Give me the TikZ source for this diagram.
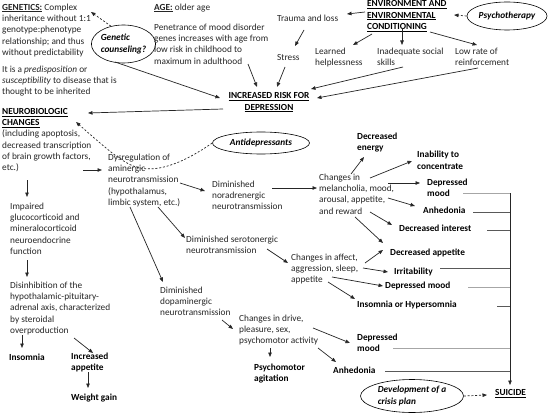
\documentclass[tikz,border=0pt]{standalone}
\usepackage{fontspec}
\setmainfont{Carlito}
\usetikzlibrary{arrows.meta,shapes.geometric}
\begin{document}
\begin{tikzpicture}[x=1pt,y=-1pt,
  txt/.style={font=\fontsize{9.3}{11.3}\selectfont, text=black!85, align=left, inner sep=0pt, anchor=north west},
  bld/.style={txt, font=\fontsize{9.3}{11.3}\selectfont\bfseries, text=black},
  arr/.style={-{Triangle[length=4.5pt,width=3.5pt]}, line width=0.7pt, black!85},
  darr/.style={arr, dash pattern=on 2pt off 1.8pt},
  oval/.style={ellipse, draw, line width=0.6pt, inner sep=0pt, text=black, font=\fontsize{9.3}{11.3}\selectfont\bfseries\itshape, align=left},
  hl/.style={line width=0.7pt, black!65},
  hll/.style={line width=1pt, black!35}]
\fill[white] (0,0) rectangle (553,414);
\useasboundingbox (0,0) rectangle (553,414);

% top row
\node[txt] (gen) at (2,3.5) {\textbf{\underline{GENETICS:}} Complex\\inheritance without 1:1\\genotype:phenotype\\relationship; and thus\\without predictability};
\node[txt] (pred) at (2,65.5) {It is a \textit{predisposition} or\\\textit{susceptibility} to disease that is\\thought to be inherited};
\node[oval, minimum width=53pt, minimum height=38pt] (gc) at (123.5,44) {Genetic\\counseling?};
\node[txt] (age) at (154,3.5) {\textbf{\underline{AGE:}} older age};
\node[txt] (pen) at (154,23.5) {Penetrance of mood disorder\\genes increases with age from\\low risk in childhood to\\maximum in adulthood};
\node[txt] (trauma) at (277,14.5) {Trauma and loss};
\node[bld] (env) at (367,0.5) {\underline{ENVIRONMENT AND}\\\underline{ENVIRONMENTAL}\\\underline{CONDITIONING}};
\node[oval, minimum width=80pt, minimum height=28pt] (psy) at (507,16) {Psychotherapy};
\node[txt] (stress) at (277,54.5) {Stress};
\node[txt] (learned) at (315,47.5) {Learned\\helplessness};
\node[txt] (inad) at (377,47.5) {Inadequate social\\skills};
\node[txt] (low) at (455,47.5) {Low rate of\\reinforcement};
\node[bld, align=center, anchor=north] (risk) at (269,92.5) {\underline{INCREASED RISK FOR}\\\underline{DEPRESSION}};

% neurobiologic column
\node[txt] (neuro) at (2,108) {\textcolor{black}{\textbf{\underline{NEUROBIOLOGIC}}}\\\textcolor{black}{\textbf{\underline{CHANGES}}}\\(including apoptosis,\\decreased transcription\\of brain growth factors,\\etc.)};
\node[txt] (imp) at (10,202.5) {Impaired\\glucocorticoid and\\mineralocorticoid\\neuroendocrine\\function};
\node[txt] (dis) at (10,281.5) {Disinhibition of the\\hypothalamic-pituitary-\\adrenal axis, characterized\\by steroidal\\overproduction};
\node[bld] (insom) at (9,353.5) {Insomnia};
\node[bld] (iapp) at (71,352.5) {Increased\\appetite};
\node[bld] (wg) at (71,394) {Weight gain};

% middle
\node[txt] (dys) at (108,153.5) {Dysregulation of\\aminergic\\neurotransmission\\(hypothalamus,\\limbic system, etc.)};
\node[oval, minimum width=97pt, minimum height=22pt] (anti) at (261,143) {Antidepressants};
\node[txt] (nor) at (212,180.5) {Diminished\\noradrenergic\\neurotransmission};
\node[txt] (mel) at (319,173.5) {Changes in\\melancholia, mood,\\arousal, appetite,\\and reward};
\node[bld] (energy) at (357,132.5) {Decreased\\energy};
\node[bld] (conc) at (417,151) {Inability to\\concentrate};
\node[bld] (dm1) at (427,178.5) {Depressed\\mood};
\node[bld] (anh1) at (423,206.5) {Anhedonia};
\node[bld] (dint) at (399,225) {Decreased interest};
\node[bld] (dapp) at (390,248.5) {Decreased appetite};
\node[txt] (sero) at (186,235.5) {Diminished serotonergic\\neurotransmission};
\node[txt] (aff) at (291,253.5) {Changes in affect,\\aggression, sleep,\\appetite};
\node[bld] (irr) at (394,268) {Irritability};
\node[bld] (dm2) at (385,281.5) {Depressed mood};
\node[bld] (ins) at (357,300.5) {Insomnia or Hypersomnia};
\node[txt] (dopa) at (160,286.5) {Diminished\\dopaminergic\\neurotransmission};
\node[txt] (drive) at (239,314.5) {Changes in drive,\\pleasure, sex,\\psychomotor activity};
\node[bld] (psych) at (254,363.5) {Psychomotor\\agitation};
\node[bld] (anh3) at (333,366.5) {Anhedonia};
\node[bld] (dm3) at (357,333.5) {Depressed\\mood};
\node[oval, minimum width=103pt, minimum height=33pt] (crisis) at (412,396) {Development of a\\crisis plan};
\node[bld] (suicide) at (495,389.5) {\underline{SUICIDE}};

% top arrows
\draw[arr] ([shift={(-2,11.5)}]env.north west) -- ([shift={(70,-0.5)}]trauma.north west);
\draw[arr] ([shift={(27,15.5)}]trauma.north west) -- ([shift={(18,-8.5)}]stress.north west);
\draw[arr] ([shift={(5,33.5)}]env.north west) -- ([shift={(38,-2.5)}]learned.north west);
\draw[arr] ([shift={(35,27.5)}]env.north west) -- ([shift={(25,-2.5)}]inad.north west);
\draw[arr] ([shift={(63,31.5)}]env.north west) -- ([shift={(22,-2.5)}]low.north west);
\draw[arr] ([shift={(94,40.5)}]pen.north west) -- ([shift={(-12,-5.5)}]risk.north);
\draw[arr] ([shift={(8,12.5)}]stress.north west) -- ([shift={(8,-5.5)}]risk.north);
\draw[arr] ([shift={(26,19.5)}]inad.north west) -- ([shift={(42,-3.5)}]risk.north);
\draw[arr] ([shift={(23,20.5)}]low.north west) -- ([shift={(48,5.5)}]risk.north);
\draw[arr] ([shift={(113,-3.5)}]pred.north west) -- ([shift={(-49,5.5)}]risk.north);
\draw[arr] ([shift={(-46,16.5)}]risk.north) -- ([shift={(86,5)}]neuro.north west);
\draw[darr] (psy.west) -- ([shift={(87,14.5)}]env.north west);
\draw[darr] (gc.125) -- ([shift={(89,8.5)}]gen.north west);

% neuro column arrows
\draw[arr] ([shift={(25,72)}]neuro.north west) -- ([shift={(17,-5.5)}]imp.north west);
\draw[arr] ([shift={(81,62)}]neuro.north west) -- ([shift={(-6,16.5)}]dys.north west);
\draw[arr] ([shift={(17,57.5)}]imp.north west) -- ([shift={(17,-4.5)}]dis.north west);
\draw[arr] ([shift={(12,53.5)}]dis.north west) -- ([shift={(13,-5.5)}]insom.north west);
\draw[arr] ([shift={(64,56.5)}]dis.north west) -- ([shift={(22,0.5)}]iapp.north west);
\draw[arr] ([shift={(17,19.5)}]iapp.north west) -- ([shift={(17,-6)}]wg.north west);
\draw[darr] (anti.west) .. controls (185,162) and (160,172) .. (140,168)
  .. controls (125,165) and (110,152) .. ([shift={(74,14)}]neuro.north west);

% middle arrows
\draw[arr] ([shift={(72,29.5)}]dys.north west) -- ([shift={(-7,10.5)}]nor.north west);
\draw[arr] ([shift={(60,7.5)}]nor.north west) -- ([shift={(-2,14.5)}]mel.north west);
\draw[arr] ([shift={(32,0.5)}]mel.north west) -- ([shift={(7,24.5)}]energy.north west);
\draw[arr] ([shift={(51,4.5)}]mel.north west) -- ([shift={(-5,10)}]conc.north west);
\draw[arr] ([shift={(69,9.5)}]mel.north west) -- ([shift={(-7,4.5)}]dm1.north west);
\draw[arr] ([shift={(69,24.5)}]mel.north west) -- ([shift={(-8,-0.5)}]anh1.north west);
\draw[arr] ([shift={(51,38.5)}]mel.north west) -- ([shift={(-7,0)}]dint.north west);
\draw[arr] ([shift={(36,43.5)}]mel.north west) -- ([shift={(-7,-5.5)}]dapp.north west);
\draw[arr] ([shift={(50,53.5)}]dys.north west) -- ([shift={(-1,2.5)}]sero.north west);
\draw[arr] ([shift={(81,13.5)}]sero.north west) -- ([shift={(-3,9.5)}]aff.north west);
\draw[arr] ([shift={(74,9.5)}]aff.north west) -- ([shift={(-7,1.5)}]dapp.north west);
\draw[arr] ([shift={(72,14.5)}]aff.north west) -- ([shift={(-6,4)}]irr.north west);
\draw[arr] ([shift={(41,23.5)}]aff.north west) -- ([shift={(-2,4.5)}]dm2.north west);
\draw[arr] ([shift={(37,28.5)}]aff.north west) -- ([shift={(-2,-1.5)}]ins.north west);
\draw[arr] ([shift={(22,53.5)}]dys.north west) -- ([shift={(3,-4.5)}]dopa.north west);
\draw[arr] ([shift={(62,33.5)}]dopa.north west) -- ([shift={(-6,14.5)}]drive.north west);
\draw[arr] ([shift={(31,33.5)}]drive.north west) -- ([shift={(16,-6.5)}]psych.north west);
\draw[arr] ([shift={(79,33.5)}]drive.north west) -- ([shift={(3,-4.5)}]anh3.north west);
\draw[arr] ([shift={(74,13.5)}]drive.north west) -- ([shift={(-7,9.5)}]dm3.north west);
\draw[darr] (crisis.east) -- ([shift={(-8,5.5)}]suicide.north west);

% collector line to SUICIDE
\coordinate (vt) at (510,193);
\coordinate (vb) at (510,385);
\draw[arr] (vt) -- (vb);
\path ([shift={(36,14.5)}]dm1.north west) coordinate (h1);
\path ([shift={(50,5.5)}]anh1.north west) coordinate (h2);
\path ([shift={(88,5)}]dint.north west) coordinate (h3);
\path ([shift={(46,0)}]irr.north west) coordinate (h4);
\path ([shift={(83,5.5)}]dm2.north west) coordinate (h5);
\path ([shift={(140,5.5)}]ins.north west) coordinate (h6);
\path ([shift={(36,14.5)}]dm3.north west) coordinate (h7);
\path ([shift={(52,4.5)}]anh3.north west) coordinate (h8);
\draw[hll] (h1) -- (h1 -| vt);
\draw[hl] (h2) -- (h2 -| vt);
\draw[hl] (h3) -- (h3 -| vt);
\draw[hl] (h4) -- (h4 -| vt);
\draw[hll] (h5) -- (h5 -| vt);
\draw[hl] (h6) -- (h6 -| vt);
\draw[hll] (h7) -- (h7 -| vt);
\draw[hl] (h8) -- (h8 -| vt);
\end{tikzpicture}
\end{document}
